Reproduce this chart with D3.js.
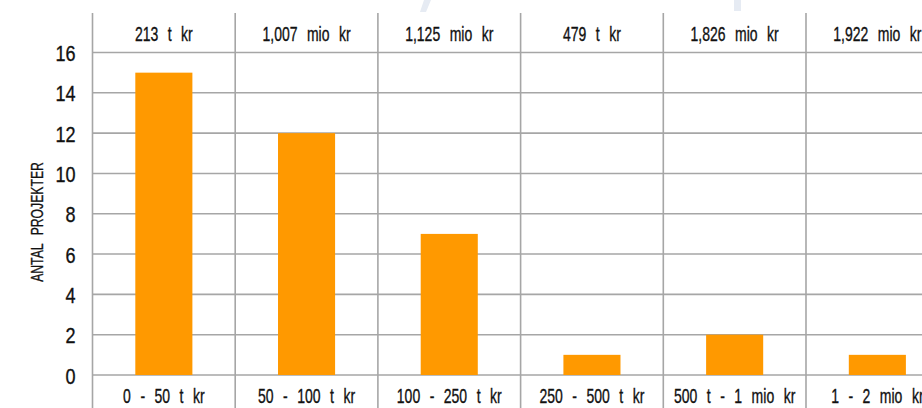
<!DOCTYPE html>
<html>
<head>
<meta charset="utf-8">
<script src="https://cdn.jsdelivr.net/npm/d3@7"></script>
<style>
  html, body { margin: 0; padding: 0; background: #fff; }
  svg { display: block; }
  text { font-family: "Liberation Sans", Arial, sans-serif; fill: #111; stroke: #111; stroke-width: 0.35; }
</style>
</head>
<body>
<svg id="chart" width="922" height="408"></svg>
<script>
const categories = ["0 - 50 t kr", "50 - 100 t kr", "100 - 250 t kr", "250 - 500 t kr", "500 t - 1 mio kr", "1 - 2 mio kr"];
const totals = ["213 t kr", "1,007 mio kr", "1,125 mio kr", "479 t kr", "1,826 mio kr", "1,922 mio kr"];
const counts = [15, 12, 7, 1, 2, 1];
const yTicks = [0, 2, 4, 6, 8, 10, 12, 14, 16];
const yTitle = "ANTAL PROJEKTER";

const W = 922, H = 408;
const left = 92.5, band = 142.7;
const svg = d3.select("#chart");

// faint background decoration
svg.append("polygon").attr("points", "424,0 431,0 426,12 420,12").attr("fill", "#e6ebf3");
svg.append("rect").attr("x", 734).attr("y", 0).attr("width", 7).attr("height", 11).attr("fill", "#e6ebf3");

const x = d3.scaleBand().domain(categories.concat(["_extra"])).range([left, left + band * 7]).paddingInner(0).paddingOuter(0);
const y = d3.scaleLinear().domain([0, 16]).range([375, 52.5]);

const grid = "#a6a6a6";
svg.append("g").selectAll("line").data(yTicks).join("line")
  .attr("x1", left).attr("x2", W)
  .attr("y1", d => y(d)).attr("y2", d => y(d))
  .attr("stroke", grid).attr("stroke-width", 1.6);

const seps = categories.map(c => x(c)).concat([x("_extra")]);
svg.append("g").selectAll("line").data(seps).join("line")
  .attr("x1", d => d).attr("x2", d => d)
  .attr("y1", 13).attr("y2", H)
  .attr("stroke", grid).attr("stroke-width", 1.6);

const bw = band * 0.4;
svg.append("g").selectAll("rect").data(counts).join("rect")
  .attr("x", (d, i) => x(categories[i]) + band / 2 - bw / 2)
  .attr("width", bw)
  .attr("y", d => y(d))
  .attr("height", d => y(0) - y(d))
  .attr("fill", "#ff9900");

// y tick labels (condensed)
svg.append("g").selectAll("text").data(yTicks).join("text")
  .attr("transform", d => `translate(75.5,${y(d) + 8.5}) scale(0.82,1)`)
  .attr("text-anchor", "end")
  .attr("font-size", 22)
  .text(d => d);

// y title
svg.append("text")
  .attr("transform", "translate(42.5,222) rotate(-90) scale(0.74,1)")
  .attr("text-anchor", "middle")
  .attr("font-size", 16.5)
  .attr("word-spacing", 7)
  .text(yTitle);

// top labels
svg.append("g").selectAll("text").data(totals).join("text")
  .attr("transform", (d, i) => `translate(${x(categories[i]) + band / 2},41) scale(0.7,1)`)
  .attr("text-anchor", "middle")
  .attr("font-size", 20)
  .attr("word-spacing", 8)
  .text(d => d);

// bottom labels
svg.append("g").selectAll("text").data(categories).join("text")
  .attr("transform", (d, i) => `translate(${x(d) + band / 2},403) scale(0.7,1)`)
  .attr("text-anchor", "middle")
  .attr("font-size", 20)
  .attr("word-spacing", 8)
  .text(d => d);
</script>
</body>
</html>
